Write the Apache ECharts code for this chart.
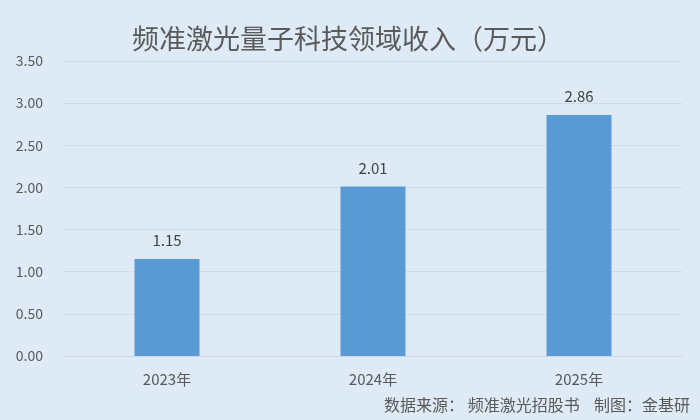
<!DOCTYPE html>
<html><head><meta charset="utf-8">
<script src="https://cdn.jsdelivr.net/npm/echarts@6/dist/echarts.min.js"></script>
<style>html,body{margin:0;padding:0;background:#deeaf6;}#c{width:700px;height:420px;}</style>
</head><body><div id="c"></div>
<script>
var categories = ['2023年', '2024年', '2025年'];
var revenue = [1.15, 2.01, 2.86];
var titleText = '频准激光量子科技领域收入（万元）';
var sourceText = '数据来源： 频准激光招股书    制图：金基研';
var chart = echarts.init(document.getElementById('c'));
var font = '"Microsoft YaHei","Noto Sans CJK SC",sans-serif';
chart.setOption({
  backgroundColor: '#deeaf6',
  title: {
    text: titleText, left: 343, textAlign: 'center', top: 20,
    textStyle: {fontSize: 27, fontWeight: 'normal', color: '#5a5a5a', fontFamily: font}
  },
  graphic: [{
    type: 'text', right: 10, top: 397,
    style: {text: sourceText, fill: '#595959', font: '16px ' + font}
  }],
  grid: {left: 64, right: 18, top: 61, bottom: 64},
  xAxis: {
    type: 'category', data: categories,
    axisLine: {lineStyle: {color: '#cbd6e2'}},
    axisTick: {show: false},
    axisLabel: {fontSize: 15, color: '#595959', margin: 16, fontFamily: font}
  },
  yAxis: {
    type: 'value', min: 0, max: 3.5, interval: 0.5,
    axisLine: {show: false}, axisTick: {show: false},
    splitLine: {lineStyle: {color: '#cfdbe8'}},
    axisLabel: {fontSize: 14, color: '#595959', margin: 21, fontFamily: font,
      formatter: function(v){return v.toFixed(2);}}
  },
  series: [{
    type: 'bar', data: revenue, barWidth: 65,
    itemStyle: {color: '#5b9bd5'},
    label: {show: true, position: 'top', distance: 11, fontSize: 15, color: '#404040', fontFamily: font,
      formatter: function(p){return p.value.toFixed(2);}}
  }]
});
</script></body></html>
